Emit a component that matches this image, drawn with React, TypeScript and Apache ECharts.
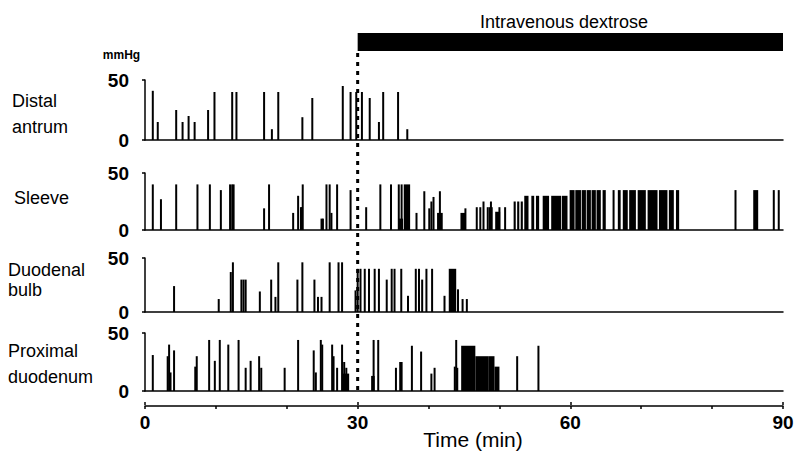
import React, { useEffect, useRef } from 'react';
import * as echarts from 'echarts';

// ---------- data (minutes, mmHg) ----------
const panelNames = ['Distal\nantrum', 'Sleeve', 'Duodenal\nbulb', 'Proximal\nduodenum'];
const pressureTicks = [0, 50];
const timeTicks = [0, 30, 60, 90];
const infusionWindow = [30, 90];
const infusionLabel = 'Intravenous dextrose';
const unitLabel = 'mmHg';
const timeLabel = 'Time (min)';

// single contractions: [time, amplitude]
const distalSpikes = [
  [1.1, 41], [1.8, 15], [4.4, 25], [5.3, 15], [6.15, 20], [7.0, 15], [8.9, 25], [9.8, 40],
  [12.3, 40], [12.9, 40], [16.8, 40], [17.9, 9], [18.8, 40], [22.2, 19], [23.6, 35],
  [27.9, 45], [29.0, 40], [29.8, 40], [30.6, 40], [31.7, 35], [33.0, 15], [33.6, 40],
  [35.7, 40], [37.0, 9],
];
const distalBlocks: number[][] = [];

const sleeveSpikes = [
  [1.1, 40], [2.25, 27], [4.4, 40], [7.4, 40], [9.15, 40], [10.7, 35], [12.0, 40], [12.3, 40],
  [12.5, 40], [16.8, 19], [17.5, 40], [20.9, 15], [21.6, 30], [22.0, 20], [22.1, 20], [22.25, 40],
  [24.9, 10], [25.1, 10], [25.6, 40], [26.05, 40], [26.3, 15], [27.1, 40], [29.0, 35], [31.2, 20],
  [33.2, 40], [34.7, 40], [35.8, 40], [36.2, 40], [38.3, 15], [39.4, 34], [40.1, 19], [40.4, 25],
  [40.7, 29], [41.6, 34], [45.2, 19], [46.8, 20], [47.3, 20], [47.75, 25], [48.35, 20], [48.8, 25],
  [50.0, 20], [50.8, 20], [66.1, 35], [83.3, 35], [88.7, 35], [89.4, 35],
];
// bursts: [start, end, amplitude]
const sleeveBlocks = [
  [35.8, 36.4, 10], [36.5, 37.4, 40], [41.2, 42.0, 15], [44.5, 45.2, 15], [48.5, 49.05, 20],
  [49.4, 50.1, 16], [52.0, 52.3, 25], [52.5, 52.8, 25], [53.0, 53.3, 25], [53.5, 54.1, 30],
  [54.5, 54.9, 30], [55.15, 55.6, 30], [56.1, 57.0, 30], [57.3, 58.7, 30], [58.8, 59.6, 30],
  [59.9, 60.6, 35], [60.7, 61.5, 35], [61.6, 62.2, 35], [62.3, 62.9, 35], [63.0, 63.6, 35],
  [63.7, 64.3, 35], [64.55, 65.0, 35], [66.7, 67.1, 35], [67.4, 68.1, 35], [68.3, 69.25, 35],
  [69.5, 70.65, 35], [70.9, 72.3, 35], [72.5, 73.7, 35], [73.9, 74.6, 35], [74.9, 75.35, 35],
  [85.8, 86.5, 35],
];

const bulbSpikes = [
  [4.1, 24], [10.4, 12], [12.1, 37], [12.4, 46], [13.6, 30], [13.9, 30], [14.2, 30], [16.2, 19],
  [17.8, 30], [18.8, 46], [21.5, 30], [22.2, 46], [23.9, 30], [24.4, 14], [24.9, 14],
  [26.05, 46], [27.3, 46], [27.8, 46], [29.7, 20], [30.0, 40], [30.4, 40], [31.0, 40], [31.6, 40],
  [32.4, 40], [33.0, 40], [34.1, 30], [34.8, 40], [35.2, 40], [36.15, 40], [37.1, 15], [38.2, 40],
  [38.65, 40], [39.1, 30], [39.7, 40], [40.5, 40], [42.25, 15], [44.15, 21], [44.8, 12], [45.4, 12],
];
const bulbBlocks = [[18.3, 18.5, 14], [42.85, 43.9, 40]];

const proximalSpikes = [
  [1.1, 31], [3.2, 30], [3.4, 40], [4.1, 35], [7.3, 30], [9.05, 44], [9.85, 26], [10.55, 44],
  [11.75, 40], [13.2, 44], [14.2, 20], [14.9, 26], [16.1, 30], [19.7, 20], [21.6, 44], [23.8, 35],
  [24.8, 44], [25.0, 40], [26.4, 40], [26.6, 30], [27.1, 20], [27.8, 40], [28.1, 25], [28.4, 20],
  [32.25, 44], [32.9, 44], [35.4, 20], [36.0, 25], [36.2, 25], [37.65, 39], [38.95, 34],
  [40.4, 15], [40.85, 20], [43.7, 21], [43.9, 44], [44.05, 20], [52.5, 30], [55.5, 39],
];
const proximalBlocks = [
  [3.5, 3.7, 16], [6.95, 7.3, 21], [16.3, 16.5, 20], [24.0, 24.2, 16], [27.9, 28.8, 15],
  [31.9, 32.4, 13], [44.6, 46.6, 39], [46.6, 48.5, 30], [48.5, 49.3, 30], [49.3, 50.0, 21],
];

// ---------- layout / style ----------
const FONT = "'Liberation Sans', Arial, Helvetica, sans-serif";
const LEFT = 145;
const RIGHT = 11;
const panelLayout = [
  { top: 80, height: 60 },
  { top: 173, height: 57 },
  { top: 258, height: 54 },
  { top: 333, height: 58 },
];
const labelLayout = [
  { x: 12, y: 88.5, lineHeight: 25.5 },
  { x: 14, y: 185, lineHeight: 25 },
  { x: 8, y: 259.5, lineHeight: 20 },
  { x: 8, y: 337.5, lineHeight: 26.3 },
];

const panelData = [
  [distalSpikes, distalBlocks],
  [sleeveSpikes, sleeveBlocks],
  [bulbSpikes, bulbBlocks],
  [proximalSpikes, proximalBlocks],
].map(([spikes, blocks]) => [
  ...spikes.map(([t, h]) => [t, t, h]),
  ...blocks.map(([a, b, h]) => [a, b, h]),
]);

const renderEvent = (_params: any, api: any) => {
  const t0 = api.value(0);
  const t1 = api.value(1);
  const h = api.value(2);
  const p0 = api.coord([t0, h]);
  const p1 = api.coord([t1, 0]);
  let x = p0[0];
  let w = p1[0] - p0[0];
  if (w < 2) {
    const c = (p0[0] + p1[0]) / 2;
    x = c - 1;
    w = 2;
  }
  return {
    type: 'rect',
    shape: { x, y: p0[1], width: w, height: p1[1] - p0[1] },
    style: { fill: '#000' },
  };
};

export default function App() {
  const ref = useRef<HTMLDivElement>(null);

  useEffect(() => {
    if (!ref.current) return;
    const chart = echarts.init(ref.current, undefined, { renderer: 'svg' });
    const black = { color: '#000', width: 1.5 };

    const grids: any[] = panelLayout.map((p) => ({
      left: LEFT, right: RIGHT, top: p.top, height: p.height, containLabel: false, outerBoundsMode: 'none',
    }));
    grids.push({ left: LEFT, right: RIGHT, top: 405, height: 1, containLabel: false, outerBoundsMode: 'none' });
    grids.push({ left: LEFT, right: RIGHT, top: 33, height: 18, containLabel: false, outerBoundsMode: 'none' });
    grids.push({ left: LEFT, right: RIGHT, top: 51, height: 344, containLabel: false, outerBoundsMode: 'none' });

    const xAxes: any[] = panelLayout.map((_, i) => ({
      gridIndex: i, type: 'value', min: 0, max: 90,
      axisLine: { show: true, onZero: false, lineStyle: black },
      axisTick: { show: false }, axisLabel: { show: false }, splitLine: { show: false },
    }));
    xAxes.push({
      gridIndex: 4, type: 'value', position: 'bottom', min: 0, max: 90, interval: 10,
      axisLine: { show: true, onZero: false, lineStyle: black },
      axisTick: { show: true, length: 3, lineStyle: black },
      axisLabel: {
        formatter: (v: number) => (timeTicks.includes(v) ? String(v) : ''),
        fontSize: 19, fontWeight: 'bold', color: '#000', fontFamily: FONT, margin: 7,
      },
      splitLine: { show: false },
    });
    xAxes.push({
      gridIndex: 4, type: 'value', position: 'top', min: 0, max: 90, interval: 30,
      axisLine: { show: false, onZero: false },
      axisTick: { show: true, length: 3, lineStyle: black },
      axisLabel: { show: false }, splitLine: { show: false },
    });
    xAxes.push({ gridIndex: 5, type: 'value', min: 0, max: 90, show: false });
    xAxes.push({ gridIndex: 6, type: 'value', min: 0, max: 90, show: false });

    const yAxes: any[] = panelLayout.map((_, i) => ({
      gridIndex: i, type: 'value', min: pressureTicks[0], max: pressureTicks[1], interval: 50, offset: 10,
      axisLine: { show: true, lineStyle: black },
      axisTick: { show: true, length: 3, lineStyle: black },
      axisLabel: { fontSize: 19, fontWeight: 'bold', color: '#000', fontFamily: FONT, margin: 6 },
      splitLine: { show: false },
    }));
    yAxes.push({ gridIndex: 4, type: 'value', min: 0, max: 1, show: false });
    yAxes.push({ gridIndex: 5, type: 'value', min: 0, max: 1, show: false });
    yAxes.push({ gridIndex: 6, type: 'value', min: 0, max: 1, show: false });

    const series: any[] = panelData.map((data, i) => ({
      type: 'custom', xAxisIndex: i, yAxisIndex: i, data, silent: true, clip: false,
      encode: { x: [0, 1], y: 2 }, renderItem: renderEvent,
    }));
    series.push({
      type: 'custom', xAxisIndex: 6, yAxisIndex: 5, silent: true,
      data: [infusionWindow], encode: { x: [0, 1] },
      renderItem: (_p: any, api: any) => {
        const a = api.coord([api.value(0), 1]);
        const b = api.coord([api.value(1), 0]);
        return { type: 'rect', shape: { x: a[0], y: a[1], width: b[0] - a[0], height: b[1] - a[1] }, style: { fill: '#000' } };
      },
    });
    series.push({
      type: 'custom', xAxisIndex: 7, yAxisIndex: 6, silent: true, z: 5,
      data: [[infusionWindow[0]]], encode: { x: 0 },
      renderItem: (_p: any, api: any) => {
        const a = api.coord([api.value(0), 1]);
        const b = api.coord([api.value(0), 0]);
        return {
          type: 'line', shape: { x1: a[0], y1: a[1] + 2, x2: b[0], y2: b[1] },
          style: { stroke: '#000', lineWidth: 3, lineDash: [4, 5] },
        };
      },
    });

    const graphic: any[] = panelNames.map((name, i) => ({
      type: 'text', left: labelLayout[i].x, top: labelLayout[i].y,
      style: {
        text: name, fontSize: 18, fontFamily: FONT, fill: '#000',
        lineHeight: labelLayout[i].lineHeight,
      },
    }));
    graphic.push({
      type: 'text', x: 121.5, y: 55,
      style: { text: unitLabel, fontSize: 12, fontWeight: 'bold', fontFamily: FONT, fill: '#000', align: 'center', verticalAlign: 'middle' },
    });
    graphic.push({
      type: 'text', x: 564, y: 22,
      style: { text: infusionLabel, fontSize: 18, fontFamily: FONT, fill: '#000', align: 'center', verticalAlign: 'middle' },
    });
    graphic.push({
      type: 'text', x: 473, y: 439,
      style: { text: timeLabel, fontSize: 21, fontFamily: FONT, fill: '#000', align: 'center', verticalAlign: 'middle' },
    });

    chart.setOption({
      animation: false,
      backgroundColor: '#fff',
      grid: grids,
      xAxis: xAxes,
      yAxis: yAxes,
      series,
      graphic,
    });
    return () => chart.dispose();
  }, []);

  return (
    <div
      ref={ref}
      style={{ position: 'fixed', left: 0, top: 0, width: 794, height: 454, background: '#fff' }}
    />
  );
}
